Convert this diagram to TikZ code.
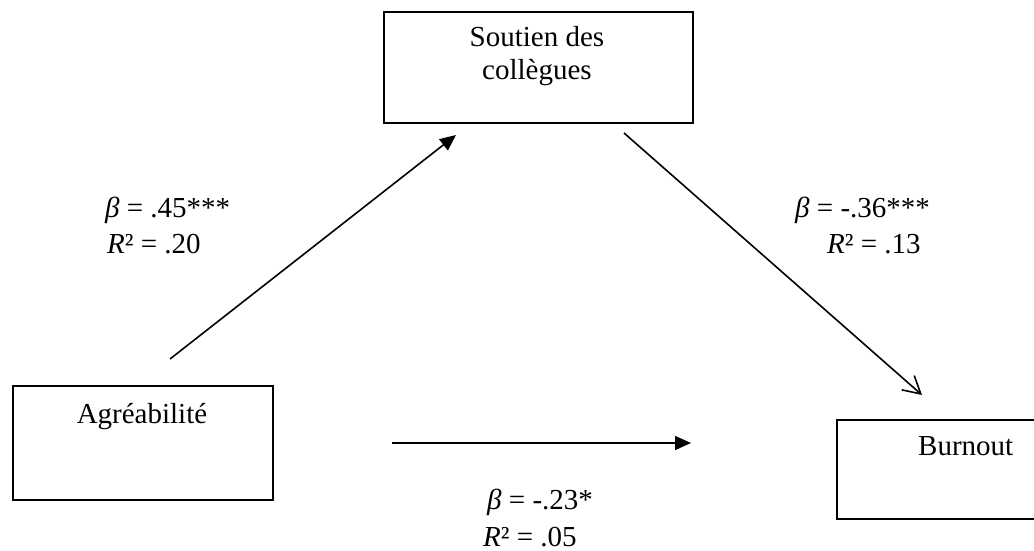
\documentclass[tikz,border=0pt]{standalone}
\usepackage{fontspec}
\setmainfont{Liberation Serif}
\usetikzlibrary{arrows.meta}
\begin{document}
\begin{tikzpicture}[x=1pt,y=-1pt,
  box/.style={draw,line width=1.6,rectangle,inner sep=0,anchor=north west},
  txt/.style={inner sep=0,font=\fontsize{29}{33}\selectfont},
  conn/.style={line width=1.6},
  solidhead/.style={conn,-{Triangle[length=16,width=14]}},
  openhead/.style={conn,-{Straight Barb[length=17,width=19,line width=1.6]}}]
\useasboundingbox (0,0) rectangle (1034,551);
\clip (0,0) rectangle (1034,551);
% boxes
\node[box,minimum width=309,minimum height=111] (sout) at (383,11) {};
\node[box,minimum width=260,minimum height=114] (agre) at (12,385) {};
\node[box,minimum width=260,minimum height=99] (burn) at (836,419) {};
% box texts
\node[txt,anchor=base] (soutA) at (537,47) {Soutien des};
\node[txt,anchor=base] (soutB) at (537,80) {collègues};
\node[txt,anchor=base] (agreT) at (142,423) {Agréabilité};
\node[txt,anchor=base west] (burnT) at (918,455) {Burnout};
% connector ends
\coordinate (a1s) at (170,359);
\coordinate (a1e) at (456,135);
\coordinate (a2s) at (624,133);
\coordinate (a2e) at (922,395);
\coordinate (a3s) at (392,443);
\coordinate (a3e) at (691,443);
\draw[solidhead] (a1s) -- (a1e);
\draw[openhead] (a2s) -- (a2e);
\draw[solidhead] (a3s) -- (a3e);
% labels
\node[txt,anchor=base west] (l1a) at (105,217) {\textit{β} = .45***};
\node[txt,anchor=base west] (l1b) at (107,253) {\textit{R}² = .20};
\node[txt,anchor=base west] (l2a) at (795,217) {\textit{β} = -.36***};
\node[txt,anchor=base west] (l2b) at (827,253) {\textit{R}² = .13};
\node[txt,anchor=base west] (l3a) at (487,509) {\textit{β} = -.23*};
\node[txt,anchor=base west] (l3b) at (483,546) {\textit{R}² = .05};
\end{tikzpicture}
\end{document}
